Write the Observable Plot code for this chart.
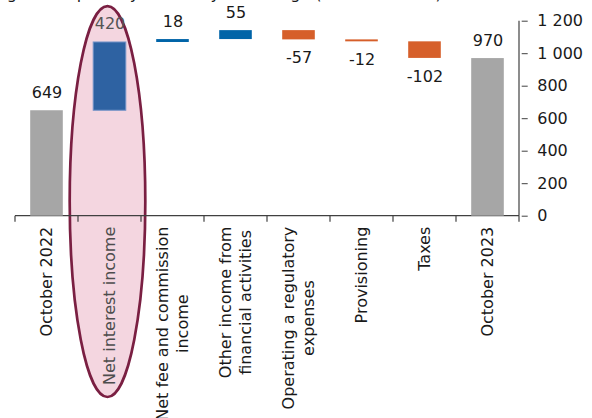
<!DOCTYPE html>
<html><head><meta charset="utf-8">
<script src="https://cdn.jsdelivr.net/npm/d3@7"></script>
<script src="https://cdn.jsdelivr.net/npm/@observablehq/plot@0.6"></script>
<style>
html,body{margin:0;padding:0;background:#fff;overflow:hidden}
#wrap{position:relative;width:592px;height:418px;overflow:hidden}
#title{position:absolute;left:-48px;top:-16.5px;white-space:nowrap;font-family:"DejaVu Sans";font-size:16px;line-height:19px;color:#1a1a1a}
#chart{position:absolute;left:0;top:0}
</style></head><body>
<div id="wrap"><div id="title">Banking sector profit: year-over-year change (in HUF billions)</div><div id="chart"></div></div>
<script>
const categories = [
  "October 2022",
  "Net interest income",
  "Net fee and commission\nincome",
  "Other income from\nfinancial activities",
  "Operating a regulatory\nexpenses",
  "Provisioning",
  "Taxes",
  "October 2023"
];
const values = [649, 420, 18, 55, -57, -12, -102, 970];
const kinds = ["total", "change", "change", "change", "change", "change", "change", "total"];
const highlighted = "Net interest income";
const yTicks = [0, 200, 400, 600, 800, 1000, 1200];

const FONT = "DejaVu Sans";
const COLORS = {total: "#a6a6a6", up: "#0064a8", down: "#d65f2a", highlight: "#2e62a2"};

// build waterfall table
let run = 0;
const rows = categories.map((c, i) => {
  const v = values[i];
  let start, end;
  if (kinds[i] === "total") { start = 0; end = v; run = v; }
  else { start = run; end = run + v; run = end; }
  const kind = kinds[i] === "total" ? "total" : (c === highlighted ? "highlight" : (v >= 0 ? "up" : "down"));
  return {cat: c, value: v, start, end, kind, hi: Math.max(start, end), lo: Math.min(start, end)};
});

const measure = document.createElement("canvas").getContext("2d");
measure.font = `16px "${FONT}"`;

function ellipseMark(index, scales, vals, dims) {
  const bw = scales.x.bandwidth ? scales.x.bandwidth() : scales.scales.x.bandwidth;
  const cx = scales.x(highlighted) + bw / 2 - 2;
  const top = scales.y(1290);
  const bottom = dims.height - 21;
  const g = d3.create("svg:g");
  g.append("ellipse")
    .attr("cx", cx).attr("cy", (top + bottom) / 2)
    .attr("rx", bw * 0.6).attr("ry", (bottom - top) / 2)
    .attr("fill", "#f4d6e0").attr("stroke", "#7a1f42").attr("stroke-width", 2.7);
  return g.node();
}

function xAxisMark(index, scales, vals, dims) {
  const bw = scales.x.bandwidth ? scales.x.bandwidth() : scales.scales.x.bandwidth;
  const y0 = scales.y(0);
  const x0 = scales.x(categories[0]);
  const x1 = scales.x(categories[categories.length - 1]) + bw;
  const g = d3.create("svg:g").attr("stroke", "#404040").attr("stroke-width", 1.2);
  g.append("line").attr("x1", x0).attr("x2", x1).attr("y1", y0).attr("y2", y0);
  g.append("line").attr("x1", x1).attr("x2", x1).attr("y1", scales.y(yTicks[yTicks.length - 1])).attr("y2", y0);
  const bounds = categories.map(c => scales.x(c)).concat([x1]);
  for (const b of bounds) {
    g.append("line").attr("x1", b).attr("x2", b).attr("y1", y0).attr("y2", y0 + 6);
  }
  return g.node();
}

function xLabelsMark(index, scales, vals, dims) {
  const bw = scales.x.bandwidth ? scales.x.bandwidth() : scales.scales.x.bandwidth;
  const y0 = scales.y(0);
  const g = d3.create("svg:g")
    .attr("font-family", FONT).attr("font-size", 16).attr("fill", "#1a1a1a");
  for (const c of categories) {
    const lines = c.split("\n");
    const w = d3.max(lines, l => measure.measureText(l).width);
    const cx = scales.x(c) + bw / 2;
    const center = y0 + 11 + w / 2;
    lines.forEach((l, i) => {
      const lx = cx + (i - (lines.length - 1) / 2) * 19.5;
      g.append("text")
        .attr("transform", `translate(${lx},${center}) rotate(-90)`)
        .attr("text-anchor", "middle")
        .attr("dy", "0.35em")
        .attr("fill", c === highlighted ? "#4d4d4d" : "#1a1a1a")
        .text(l);
    });
  }
  return g.node();
}

const fmt = d => d3.format(",")(d).replace(/,/g, " ").replace(/\u2212/g, "-");

const chart = Plot.plot({
  width: 592,
  height: 418,
  marginTop: 20.7,
  marginBottom: 202.3,
  marginLeft: 13.7,
  marginRight: 71.3,
  style: {fontFamily: FONT, fontSize: "16px", color: "#1a1a1a", background: "transparent"},
  x: {type: "band", domain: categories, padding: 0, axis: null},
  y: {domain: [0, 1200], axis: null},
  color: {type: "identity"},
  marks: [
    ellipseMark,
    xAxisMark,
    Plot.axisY({anchor: "right", ticks: yTicks, tickSize: 6, tickPadding: 10, tickFormat: fmt,
      stroke: "#404040", fill: "#1a1a1a", fontSize: 16, label: null}),
    Plot.barY(rows, {x: "cat", y1: "start", y2: "end",
      fill: d => COLORS[d.kind],
      stroke: d => d.kind === "highlight" ? "#7393c8" : "none",
      strokeWidth: 1,
      insetLeft: 15.2, insetRight: 15.2}),
    Plot.text(rows.filter(d => d.value >= 0), {x: "cat", y: "hi", text: d => fmt(d.value),
      dy: -13, lineAnchor: "bottom", fontSize: 16,
      fill: d => d.kind === "highlight" ? "#555555" : "#1a1a1a"}),
    Plot.text(rows.filter(d => d.value < 0), {x: "cat", y: "lo", text: d => fmt(d.value),
      dy: 12, lineAnchor: "top", fontSize: 16, fill: "#1a1a1a"}),
    xLabelsMark
  ]
});
document.getElementById("chart").appendChild(chart);
</script>
</body></html>
